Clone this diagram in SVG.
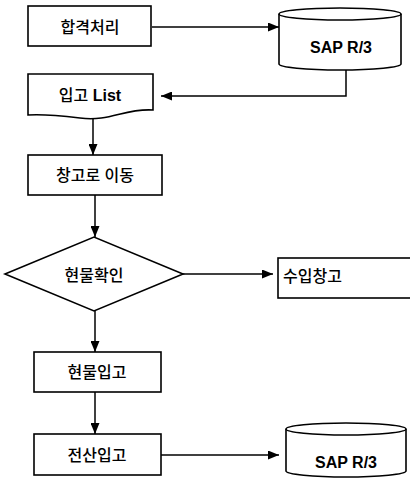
<svg xmlns="http://www.w3.org/2000/svg" width="410" height="480" viewBox="0 0 410 480">
<style>
.s{fill:#fff;stroke:#000;stroke-width:1.6}
.t{font-family:"Liberation Sans","Noto Sans CJK KR",sans-serif;font-size:16px;font-weight:500;fill:#000;text-anchor:middle;dominant-baseline:central}
.b{font-weight:bold}
.c{fill:none;stroke:#000;stroke-width:1.5}
</style>
<defs>
<marker id="a" markerWidth="11" markerHeight="9" refX="11" refY="4.5" orient="auto" markerUnits="userSpaceOnUse">
<path d="M0,0 L11,4.5 L0,9 Z" fill="#000"/>
</marker>
</defs>
<g id="connectors">
<line class="c" x1="152" y1="27" x2="279" y2="27" marker-end="url(#a)"/>
<polyline class="c" points="346,70 346,96 161,96" marker-end="url(#a)"/>
<line class="c" x1="93" y1="118" x2="93" y2="155" marker-end="url(#a)"/>
<line class="c" x1="95" y1="195" x2="95" y2="237" marker-end="url(#a)"/>
<line class="c" x1="183" y1="274" x2="273" y2="274" marker-end="url(#a)"/>
<line class="c" x1="95" y1="311" x2="95" y2="352" marker-end="url(#a)"/>
<line class="c" x1="95" y1="392" x2="95" y2="434" marker-end="url(#a)"/>
<line class="c" x1="161" y1="455" x2="279" y2="455" marker-end="url(#a)"/>
</g>
<g id="n1">
<rect class="s" x="28" y="6" width="123" height="40"/>
<text class="t" x="90" y="27">합격처리</text>
</g>
<g id="n2">
<path class="s" d="M279,14 A61,6 0 0 1 401,14 L401,64 A61,6 0 0 1 279,64 Z"/>
<path class="c" d="M279,14 A61,6 0 0 0 401,14"/>
<text class="t b" x="341" y="47">SAP R/3</text>
</g>
<g id="n3">
<path class="s" d="M28,74 L153,74 L153,110 C125,108 110,122 80,118 C55,115 40,114 28,115 Z"/>
<text class="t" x="90" y="95">입고 <tspan class="b">List</tspan></text>
</g>
<g id="n4">
<rect class="s" x="28" y="155" width="134" height="40"/>
<text class="t" x="95" y="175">창고로 이동</text>
</g>
<g id="n5">
<polygon class="s" points="5,274 94,237 183,274 94,311"/>
<text class="t" x="94" y="275">현물확인</text>
</g>
<g id="n6">
<rect class="s" x="278" y="258" width="140" height="40"/>
<text class="t" x="283" y="276" style="text-anchor:start">수입창고</text>
</g>
<g id="n7">
<rect class="s" x="34" y="352" width="127" height="40"/>
<text class="t" x="97" y="372">현물입고</text>
</g>
<g id="n8">
<rect class="s" x="34" y="434" width="127" height="41"/>
<text class="t" x="97" y="455">전산입고</text>
</g>
<g id="n9">
<path class="s" d="M286,429 A60,6 0 0 1 406,429 L406,471 A60,6 0 0 1 286,471 Z"/>
<path class="c" d="M286,429 A60,6 0 0 0 406,429"/>
<text class="t b" x="346" y="462">SAP R/3</text>
</g>
</svg>
